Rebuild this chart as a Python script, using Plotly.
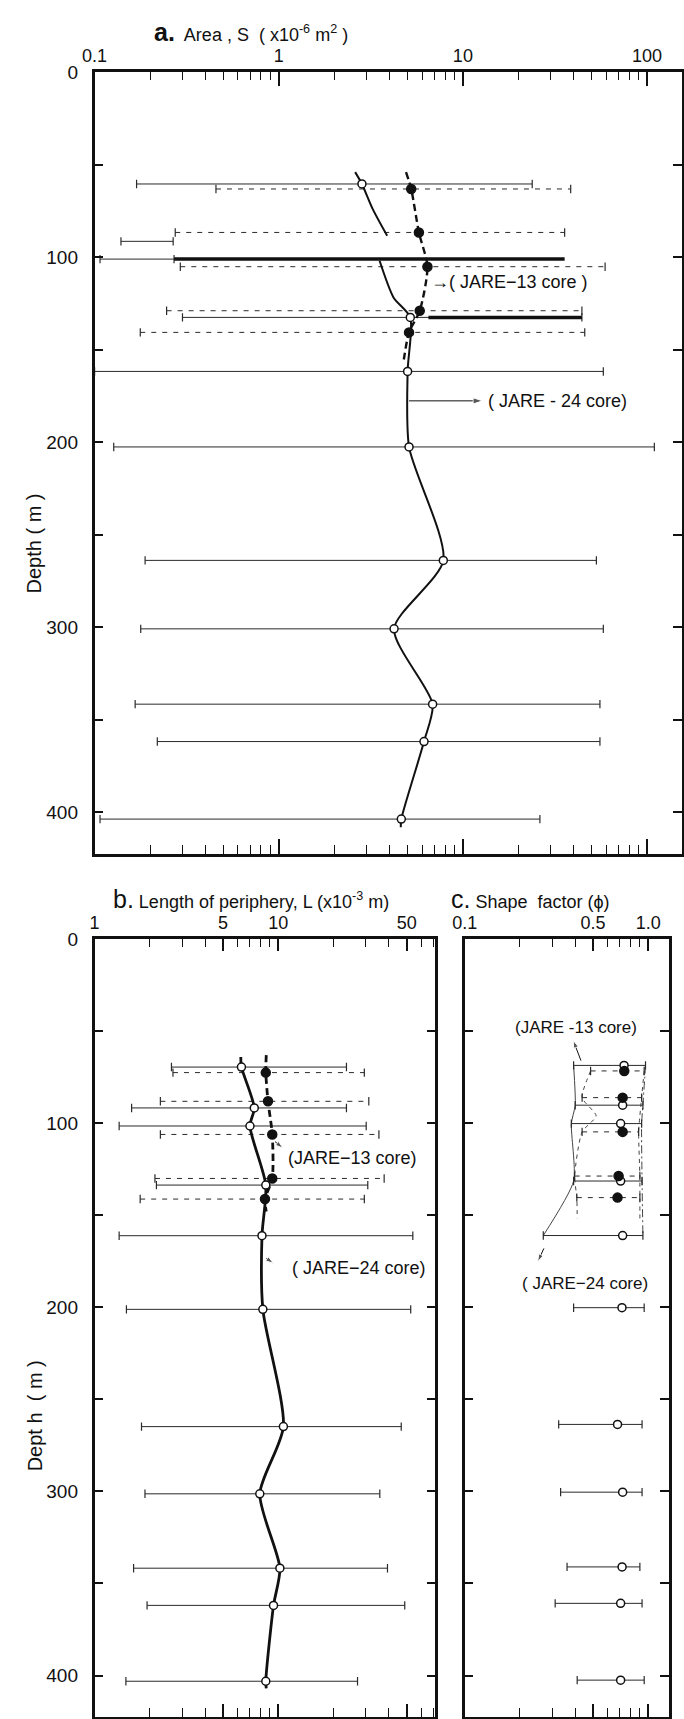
import math
import plotly.graph_objects as go

# ---------------- data ----------------
# Panel a: Area S (x10^-6 m^2)
a24_depth = [60.4, 132.5, 161.7, 202.5, 263.8, 300.8, 341.5, 361.7, 403.6]
a24_mean = [2.83, 5.18, 5.01, 5.10, 7.83, 4.23, 6.85, 6.15, 4.63]
a24_min = [0.169, 0.30, 0.10, 0.127, 0.188, 0.178, 0.166, 0.219, 0.107]
a24_max = [23.8, 44.3, 57.9, 109.6, 53.1, 57.9, 55.5, 55.5, 26.2]

a24_extra_depth = [91.4, 101.0]
a24_extra_min = [0.139, 0.107]
a24_extra_max = [0.267, 0.27]

a_thick_depth = [101.0, 132.5]
a_thick_min = [0.27, 6.5]
a_thick_max = [35.7, 44.3]

a24_curve1_depth = [54, 60.4, 74, 88.4]
a24_curve1_val = [2.6, 2.83, 3.24, 3.88]
a24_curve2_depth = [101.9, 121.7, 132.5, 161.7, 202.5, 263.8, 300.8, 341.5, 361.7, 403.6, 408]
a24_curve2_val = [3.53, 4.2, 5.18, 5.01, 5.10, 7.83, 4.23, 6.85, 6.15, 4.63, 4.6]

a13_depth = [63.1, 86.6, 105.1, 128.9, 140.6]
a13_mean = [5.24, 5.77, 6.42, 5.83, 5.10]
a13_min = [0.456, 0.274, 0.292, 0.246, 0.177]
a13_max = [38.5, 35.7, 59.2, 44.3, 45.9]
a13_curve_depth = [54, 63.1, 86.6, 105.1, 128.9, 140.6, 157]
a13_curve_val = [4.91, 5.24, 5.77, 6.42, 5.83, 5.10, 4.75]

# Panel b: Length of periphery L (x10^-3 m)
b24_depth = [69.5, 91.7, 101.5, 133.6, 161.1, 201.1, 264.8, 301.3, 341.7, 361.9, 403.1]
b24_mean = [6.30, 7.40, 7.01, 8.55, 8.15, 8.24, 10.66, 7.93, 10.2, 9.42, 8.55]
b24_min = [2.62, 1.59, 1.36, 2.17, 1.36, 1.49, 1.80, 1.88, 1.63, 1.93, 1.48]
b24_max = [23.5, 23.5, 30.1, 30.7, 54.0, 52.6, 46.7, 35.7, 39.3, 48.8, 27.0]
b24_curve_depth = [64] + b24_depth + [407]
b24_curve_val = [6.25] + b24_mean + [8.6]

b13_depth = [72.5, 88.1, 106.1, 130.0, 141.2]
b13_mean = [8.55, 8.79, 9.27, 9.27, 8.46]
b13_min = [2.67, 2.28, 2.28, 2.13, 1.77]
b13_max = [29.4, 31.1, 35.3, 37.7, 29.4]
b13_curve_depth = [63] + b13_depth + [148]
b13_curve_val = [8.6] + b13_mean + [8.6]

# Panel c: Shape factor (phi)
c24_depth = [68.6, 90.2, 100.2, 131.4, 161.0, 200.2, 263.6, 300.4, 341.0, 360.8, 402.5]
c24_mean = [0.738, 0.725, 0.707, 0.707, 0.725, 0.719, 0.68, 0.725, 0.72, 0.707, 0.707]
c24_min = [0.392, 0.40, 0.381, 0.392, 0.268, 0.392, 0.325, 0.333, 0.361, 0.311, 0.41]
c24_max = [0.966, 0.935, 0.92, 0.925, 0.935, 0.95, 0.925, 0.925, 0.90, 0.925, 0.95]

c13_depth = [71.6, 86.1, 104.7, 128.7, 140.4]
c13_mean = [0.74, 0.725, 0.725, 0.689, 0.68]
c13_min = [0.485, 0.436, 0.436, 0.397, 0.408]
c13_max = [0.95, 0.92, 0.886, 0.90, 0.90]

# envelopes in panel c (upper, overlapping-core section)
c24_env_depth = [68.6, 90.2, 100.2, 131.4, 161.0]
c24_env_min = [0.392, 0.40, 0.381, 0.392, 0.268]
c24_env_max = [0.966, 0.935, 0.92, 0.925, 0.935]
c13_env_depth = [71.6, 86.1, 96.0, 104.7, 128.7, 140.4, 151.7]
c13_env_min = [0.485, 0.436, 0.52, 0.436, 0.397, 0.408, 0.41]
c13_env_max = [0.95, 0.92, 0.90, 0.886, 0.90, 0.90, 0.90]

a_ticks = [0.1, 1, 10, 100]
a_ticktext = ["0.1", "1", "10", "100"]
b_ticks = [1, 5, 10, 50]
b_ticktext = ["1", "5", "10", "50"]
c_ticks = [0.1, 0.5, 1.0]
c_ticktext = ["0.1", "0.5", "1.0"]
depth_ticks = [0, 100, 200, 300, 400]
depth_text = ["0", "100", "200", "300", "400"]
depth_minor = [50, 150, 250, 350]

# ---------------- figure ----------------
W, H = 684, 1719
FONT = "Liberation Sans, Arial, sans-serif"
INK = "#111111"
BAR = "#2a2a2a"

fig = go.Figure()


def add_bars(xa, ya, depth, lo, hi, dash="solid", width=1.0, caps=True, color=BAR):
    xs, ys = [], []
    for d, l, h in zip(depth, lo, hi):
        xs += [l, h, None]
        ys += [d, d, None]
    fig.add_trace(go.Scatter(x=xs, y=ys, mode="lines", xaxis=xa, yaxis=ya,
                             line=dict(color=color, width=width, dash=dash),
                             showlegend=False, hoverinfo="skip"))
    if caps:
        fig.add_trace(go.Scatter(x=list(lo) + list(hi), y=list(depth) + list(depth),
                                 mode="markers", xaxis=xa, yaxis=ya,
                                 marker=dict(symbol="line-ns", size=6,
                                             line=dict(width=1.2, color=color)),
                                 showlegend=False, hoverinfo="skip"))


def add_curve(xa, ya, depth, vals, dash="solid", width=2.0):
    fig.add_trace(go.Scatter(x=vals, y=depth, mode="lines", xaxis=xa, yaxis=ya,
                             line=dict(color=INK, width=width, dash=dash,
                                       shape="spline", smoothing=0.7),
                             showlegend=False, hoverinfo="skip"))


def add_points(xa, ya, depth, vals, filled):
    fig.add_trace(go.Scatter(x=vals, y=depth, mode="markers", xaxis=xa, yaxis=ya,
                             marker=dict(symbol="circle", size=9 if filled else 8,
                                         color=INK if filled else "white",
                                         line=dict(color=INK, width=1.5)),
                             showlegend=False, hoverinfo="skip"))


def add_arrow(xa, ya, depth, vals, head_px=5):
    fig.add_trace(go.Scatter(x=vals, y=depth, mode="lines+markers", xaxis=xa, yaxis=ya,
                             line=dict(color=INK, width=1),
                             marker=dict(symbol="arrow", size=[0] * (len(vals) - 1) + [head_px + 4],
                                         angleref="previous", color=INK),
                             showlegend=False, hoverinfo="skip"))


# Panel a
add_bars("x", "y", a24_depth, a24_min, a24_max)
add_bars("x", "y", a24_extra_depth, a24_extra_min, a24_extra_max)
add_bars("x", "y", a_thick_depth, a_thick_min, a_thick_max, width=3.5, caps=False, color=INK)
add_bars("x", "y", a13_depth, a13_min, a13_max, dash="5px,6px")
add_curve("x", "y", a24_curve1_depth, a24_curve1_val, width=2.0)
add_curve("x", "y", a24_curve2_depth, a24_curve2_val, width=2.0)
add_curve("x", "y", a13_curve_depth, a13_curve_val, dash="7px,4px", width=2.4)
add_points("x", "y", a24_depth, a24_mean, False)
add_points("x", "y", a13_depth, a13_mean, True)

# Panel b
add_bars("x2", "y2", b24_depth, b24_min, b24_max)
add_bars("x2", "y2", b13_depth, b13_min, b13_max, dash="5px,6px")
add_curve("x2", "y2", b24_curve_depth, b24_curve_val, width=2.8)
add_curve("x2", "y2", b13_curve_depth, b13_curve_val, dash="7px,4px", width=2.8)
add_points("x2", "y2", b24_depth, b24_mean, False)
add_points("x2", "y2", b13_depth, b13_mean, True)

# Panel c
for dep, vals, dsh in [(c24_env_depth, c24_env_min, "solid"),
                       (c24_env_depth, c24_env_max, "8px,3px,2px,3px"),
                       (c13_env_depth, c13_env_min, "4px,4px"),
                       (c13_env_depth, c13_env_max, "4px,4px")]:
    fig.add_trace(go.Scatter(x=vals, y=dep, mode="lines", xaxis="x3", yaxis="y3",
                             line=dict(color="#444444", width=1.0, dash=dsh,
                                       shape="spline", smoothing=0.6),
                             showlegend=False, hoverinfo="skip"))
add_bars("x3", "y3", c24_depth, c24_min, c24_max)
add_bars("x3", "y3", c13_depth, c13_min, c13_max, dash="5px,6px")
add_points("x3", "y3", c24_depth, c24_mean, False)
add_points("x3", "y3", c13_depth, c13_mean, True)

# label arrows (tail -> head), values on the data scales
arrow_a24_depth = [177.6, 177.6]
arrow_a24_val = [5.1, 12.8]
arrow_b13_depth = [110.0, 113.5]
arrow_b13_val = [9.6, 10.6]
arrow_b24_depth = [173.4, 176.0]
arrow_b24_val = [8.6, 9.4]
arrow_c13_depth = [66.0, 55.0]
arrow_c13_val = [0.43, 0.39]
arrow_c24_depth = [168.0, 175.2]
arrow_c24_val = [0.27, 0.25]
add_arrow("x", "y", arrow_a24_depth, arrow_a24_val, 6)
add_arrow("x2", "y2", arrow_b13_depth, arrow_b13_val, 4)
add_arrow("x2", "y2", arrow_b24_depth, arrow_b24_val, 4)
add_arrow("x3", "y3", arrow_c13_depth, arrow_c13_val, 4)
add_arrow("x3", "y3", arrow_c24_depth, arrow_c24_val, 4)


def minor_vals(lo_exp, hi_exp, maxv):
    out = []
    for e in range(lo_exp, hi_exp + 1):
        for m in range(2, 10):
            v = m * 10 ** e
            if v < maxv:
                out.append(v)
    return out


def xaxis_cfg(domain, anchor, rng, tv, tt, minor_tv, ticklen=13):
    return dict(domain=domain, anchor=anchor, type="log", range=rng, side="top",
                tickvals=tv, ticktext=tt, ticks="inside", ticklen=ticklen,
                tickwidth=1.5, tickcolor=INK,
                minor=dict(tickvals=minor_tv, ticks="inside", ticklen=9,
                           tickwidth=1.3, tickcolor=INK, showgrid=False),
                showline=True, linewidth=2.5, linecolor=INK, mirror="ticks",
                showgrid=False, zeroline=False,
                tickfont=dict(family=FONT, size=18, color=INK))


def yaxis_cfg(domain, anchor, labels=True):
    return dict(domain=domain, anchor=anchor, range=[422.5, -0.3],
                tickvals=depth_ticks, ticktext=depth_text, showticklabels=labels,
                ticks="inside", ticklen=9, tickwidth=1.5, tickcolor=INK,
                minor=dict(tickvals=depth_minor, ticks="inside", ticklen=9,
                           tickwidth=1.5, tickcolor=INK, showgrid=False),
                showline=True, linewidth=2.5, linecolor=INK, mirror="ticks",
                showgrid=False, zeroline=False, ticklabelstandoff=10,
                tickfont=dict(family=FONT, size=19, color=INK))


fig.update_layout(
    width=W, height=H, margin=dict(l=0, r=0, t=0, b=0),
    plot_bgcolor="white", paper_bgcolor="white", showlegend=False,
    xaxis=xaxis_cfg([84 / W, 681.5 / W], "y", [-1.0005, math.log10(154)],
                    a_ticks, a_ticktext, minor_vals(-1, 2, 154), ticklen=15),
    yaxis=yaxis_cfg([1 - 849 / H, 1 - 62 / H], "x"),
    xaxis2=xaxis_cfg([84 / W, 431 / W], "y2", [-0.0005, math.log10(71.7)],
                     b_ticks, b_ticktext, [v for v in minor_vals(0, 1, 71.7) if v not in b_ticks]),
    yaxis2=yaxis_cfg([0.0012, 1 - 934 / H], "x2"),
    xaxis3=xaxis_cfg([460.7 / W, 668.3 / W], "y3", [-1.0005, math.log10(1.29)],
                     c_ticks, c_ticktext, [v for v in minor_vals(-1, -1, 1.0) if abs(v - 0.5) > 1e-9]),
    yaxis3=yaxis_cfg([0.0012, 1 - 934 / H], "x3", labels=False),
)

ann = []
TF = dict(family=FONT, size=18, color=INK)
ann.append(dict(xref="paper", yref="paper", x=142 / W, y=1 - 22 / H, xanchor="left", yanchor="middle",
                text="<span style='font-size:25px'><b>a.</b></span>  Area , S  ( x10<sup>-6</sup> m<sup>2</sup> )",
                showarrow=False, font=TF))
ann.append(dict(xref="paper", yref="paper", x=101 / W, y=1 - 894 / H, xanchor="left", yanchor="middle",
                text="<span style='font-size:25px'>b.</span> Length of periphery, L (x10<sup>-3</sup> m)",
                showarrow=False, font=TF))
ann.append(dict(xref="paper", yref="paper", x=445 / W, y=1 - 894 / H, xanchor="left", yanchor="middle",
                text="<span style='font-size:25px'>c.</span> Shape  factor (ϕ)",
                showarrow=False, font=TF))
ann.append(dict(xref="paper", yref="paper", x=22 / W, y=1 - 537 / H, xanchor="center", yanchor="middle",
                text="Depth ( m )", textangle=-90, showarrow=False,
                font=dict(family=FONT, size=20, color=INK)))
ann.append(dict(xref="paper", yref="paper", x=23 / W, y=1 - 1414 / H, xanchor="center", yanchor="middle",
                text="Dept h  ( m )", textangle=-90, showarrow=False,
                font=dict(family=FONT, size=20, color=INK)))

LF = dict(family=FONT, size=18, color=INK)
ann.append(dict(xref="x", yref="y", x=0.814, y=113.6, xanchor="left", yanchor="middle",
                text="→( JARE−13 core )", showarrow=False, font=LF))
ann.append(dict(xref="x", yref="y", x=1.124, y=177.6, xanchor="left", yanchor="middle",
                text="( JARE - 24 core)", showarrow=False, font=LF))
ann.append(dict(xref="x2", yref="y2", x=1.043, y=118.8, xanchor="left", yanchor="middle",
                text="(JARE−13 core)", showarrow=False, font=LF))
ann.append(dict(xref="x2", yref="y2", x=1.064, y=178.8, xanchor="left", yanchor="middle",
                text="( JARE−24 core)", showarrow=False, font=LF))
ann.append(dict(xref="x3", yref="y3", x=-0.394, y=47.8, xanchor="center", yanchor="middle",
                text="(JARE -13 core)", showarrow=False, font=dict(family=FONT, size=17, color=INK)))
ann.append(dict(xref="x3", yref="y3", x=-0.346, y=187.0, xanchor="center", yanchor="middle",
                text="( JARE−24 core)", showarrow=False, font=dict(family=FONT, size=17, color=INK)))

fig.update_layout(annotations=ann)
fig.write_html("out.html")
